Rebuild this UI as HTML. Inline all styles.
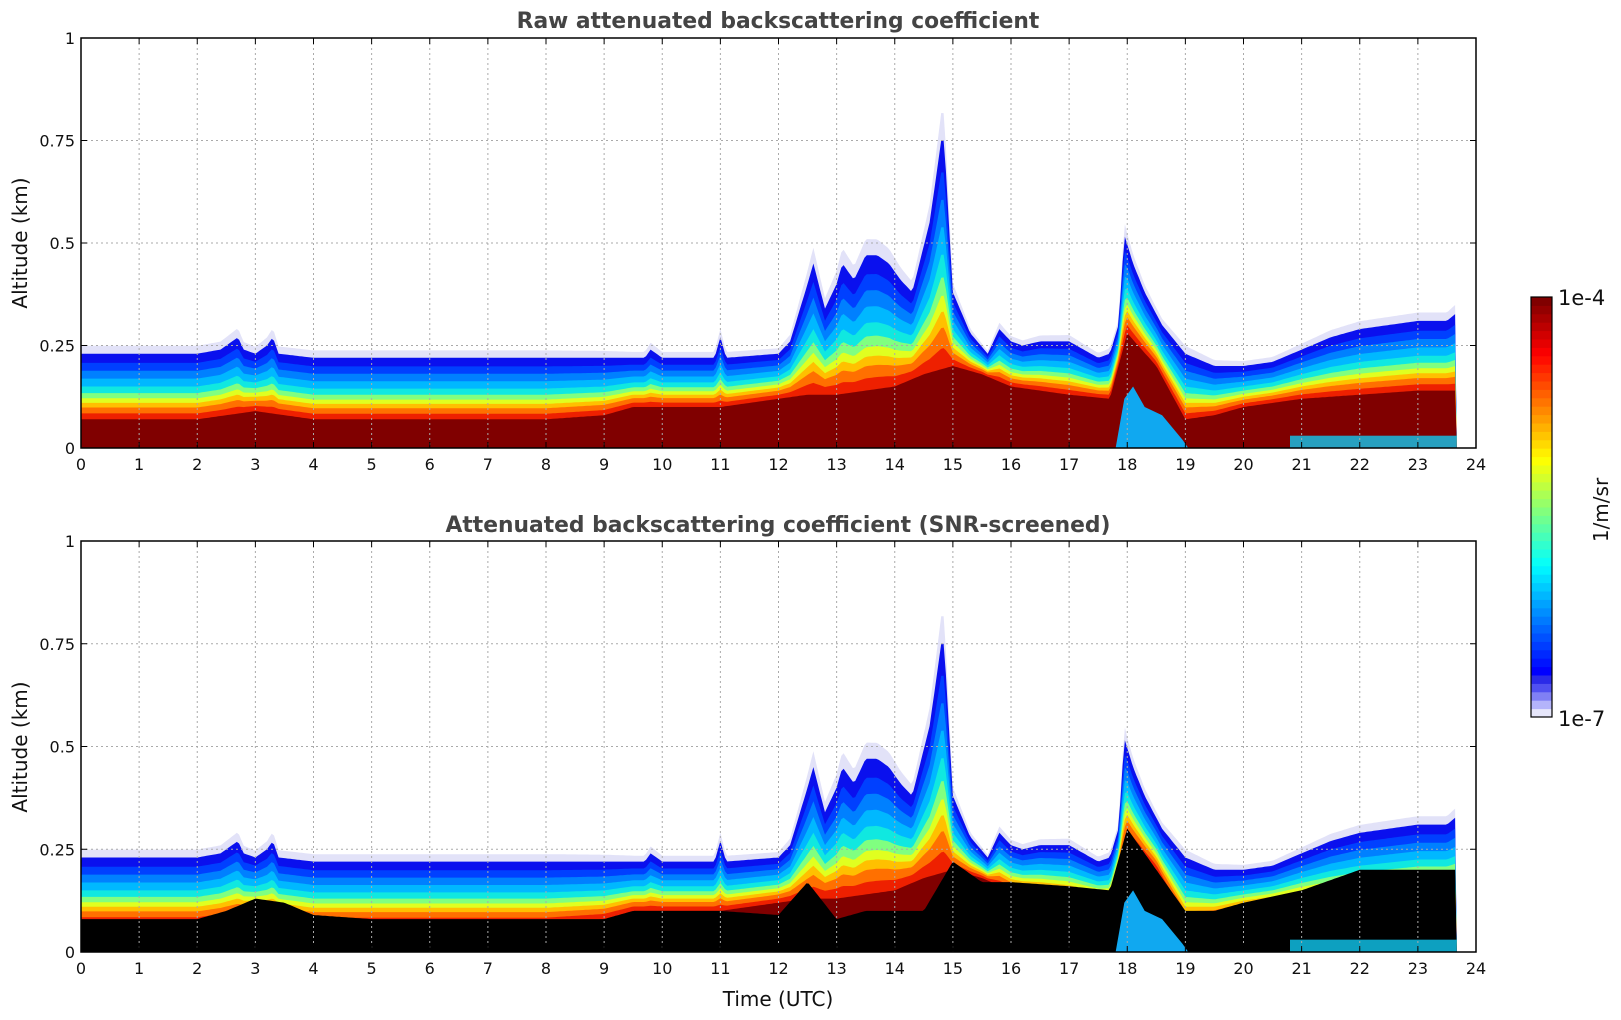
<!DOCTYPE html>
<html><head><meta charset="utf-8"><style>
body{margin:0;background:#fff;}
svg{display:block;font-family:"DejaVu Sans","Liberation Sans",sans-serif;}
</style></head><body>
<svg id="fig" width="1621" height="1020" viewBox="0 0 1621 1020">
<text x="778" y="28" text-anchor="middle" font-size="21.8" font-weight="bold" fill="#444">Raw attenuated backscattering coefficient</text>
<text x="778" y="532" text-anchor="middle" font-size="21.8" font-weight="bold" fill="#444">Attenuated backscattering coefficient (SNR-screened)</text>
<text x="778" y="1006" text-anchor="middle" font-size="20" fill="#111">Time (UTC)</text>
<text transform="translate(27,243) rotate(-90)" text-anchor="middle" font-size="20" fill="#111">Altitude (km)</text>
<text transform="translate(27,747) rotate(-90)" text-anchor="middle" font-size="20" fill="#111">Altitude (km)</text>
<g id="p1"></g>
<g id="p2"></g>
<g id="cb"></g>
<text x="1558" y="305" font-size="21" fill="#111">1e-4</text>
<text x="1558" y="726" font-size="21" fill="#111">1e-7</text>
<text transform="translate(1608,510) rotate(-90)" text-anchor="middle" font-size="20" fill="#111">1/m/sr</text>
</svg>
<script>
const times=[0,0.5,1,1.5,2,2.4,2.6,2.7,2.8,3.0,3.2,3.3,3.4,4,5,5.5,6,7,8,9,9.3,9.7,9.8,10,10.9,11,11.1,12,12.2,12.5,12.6,12.8,13,13.1,13.3,13.5,13.7,13.9,14.1,14.3,14.6,14.8,14.85,15,15.3,15.6,15.8,16,16.2,16.5,17,17.5,17.7,17.85,17.95,18.1,18.3,18.6,19,19.5,20,20.5,21,21.5,22,22.5,23,23.5,23.67];
const layerTop=[.23,.23,.23,.23,.23,.24,.26,.27,.24,.23,.25,.27,.23,.22,.22,.22,.22,.22,.22,.22,.22,.22,.24,.22,.22,.27,.22,.23,.26,.40,.45,.34,.40,.45,.41,.47,.47,.45,.41,.38,.55,.75,.75,.38,.28,.23,.29,.26,.25,.26,.26,.22,.23,.30,.52,.45,.38,.30,.23,.20,.20,.21,.24,.27,.29,.30,.31,.31,.33];
const rtimes=[0,1,2,2.5,3,3.5,4,5,6,7,8,9,9.5,10,11,12,12.5,13,13.5,14,14.5,15,15.5,16,17,17.7,18,18.5,19,19.5,20,21,22,23,23.67];
const redTop=[.07,.07,.07,.08,.09,.08,.07,.07,.07,.07,.07,.08,.1,.1,.1,.12,.13,.13,.14,.15,.18,.2,.18,.15,.13,.12,.28,.2,.07,.08,.1,.12,.13,.14,.14];
const blackTop=[.08,.08,.08,.10,.13,.12,.09,.08,.08,.08,.08,.08,.1,.1,.1,.09,.17,.08,.1,.1,.1,.22,.17,.17,.16,.15,.30,.2,.1,.1,.12,.15,.2,.2,.2];
const surfTimes=[17.8,17.95,18.1,18.3,18.6,18.95,19.05];
const surfHeight=[0,.12,.15,.1,.08,.02,0];
const xTicks=[0,1,2,3,4,5,6,7,8,9,10,11,12,13,14,15,16,17,18,19,20,21,22,23,24];
const yTicks=[0,0.25,0.5,0.75,1];
const yTickLabels=["0","0.25","0.5","0.75","1"];
const NS="http://www.w3.org/2000/svg";
const X0=81,X1=1476;
function xs(t){return X0+t/24*(X1-X0);}
function interp(ts,vs,t){if(t<=ts[0])return vs[0];for(let i=1;i<ts.length;i++){if(t<=ts[i]){const f=(t-ts[i-1])/(ts[i]-ts[i-1]);return vs[i-1]+f*(vs[i]-vs[i-1]);}}return vs[vs.length-1];}
function mk(tag,attrs,parent){const e=document.createElementNS(NS,tag);for(const k in attrs)e.setAttribute(k,attrs[k]);parent.appendChild(e);return e;}
const bands=[[1.12,"#e2e2f8"],[1.0,"#0a10ee"],[0.86,"#0040ff"],[0.74,"#0080ff"],[0.62,"#00b8ff"],[0.5,"#10e8e0"],[0.4,"#80ff80"],[0.32,"#e0ff20"],[0.25,"#ffc000"],[0.18,"#ff7000"],[0.09,"#ee2000"]];
function areaPath(fn,ys){let tEnd=23.67,d="M"+xs(0)+","+ys(0);for(let t=0;t<=tEnd+1e-6;t+=0.04){d+="L"+xs(t).toFixed(1)+","+ys(fn(t)).toFixed(1);}d+="L"+xs(tEnd)+","+ys(0)+"Z";return d;}
function drawPlot(g,yT,yB,screened){
  const ys=a=>yB-a*(yB-yT);
  mk("rect",{x:X0,y:yT,width:X1-X0,height:yB-yT,fill:"#fff"},g);
  bands.forEach(([f,c])=>{
    const p=mk("path",{d:areaPath(t=>{const tp=interp(times,layerTop,t),r=interp(rtimes,redTop,t);return r+(tp-r)*f;},ys),fill:c},g);
    
    
  });
  const dr=mk("path",{d:areaPath(t=>interp(rtimes,redTop,t),ys),fill:"#800000"},g);
  
  
  if(screened){
    const bk=mk("path",{d:areaPath(t=>interp(rtimes,blackTop,t),ys),fill:"#000"},g);
    
    
  }
  let d="M"+xs(surfTimes[0])+","+ys(0);
  surfTimes.forEach((t,i)=>{d+="L"+xs(t)+","+ys(surfHeight[i]);});
  d+="L"+xs(surfTimes[surfTimes.length-1])+","+ys(0)+"Z";
  const sf=mk("path",{d:d,fill:"#10a8f0"},g);
  
  
  const lb=mk("rect",{x:xs(20.8),y:ys(0.03),width:xs(23.67)-xs(20.8),height:ys(0)-ys(0.03),fill:"#10c8f0",opacity:0.8},g);
  
  
  xTicks.forEach(t=>{
    if(t>0&&t<24)mk("line",{x1:xs(t),x2:xs(t),y1:yT,y2:yB,stroke:"#aaa","stroke-dasharray":"2,3","stroke-width":1},g);
    mk("line",{x1:xs(t),x2:xs(t),y1:yB,y2:yB-6,stroke:"#000"},g);
    mk("line",{x1:xs(t),x2:xs(t),y1:yT,y2:yT+6,stroke:"#000"},g);
    const tx=mk("text",{x:xs(t),y:yB+22,"text-anchor":"middle","font-size":16,fill:"#111"},g);
    tx.textContent=t;
    
    
  });
  yTicks.forEach((v,i)=>{
    if(v>0&&v<1)mk("line",{x1:X0,x2:X1,y1:ys(v),y2:ys(v),stroke:"#aaa","stroke-dasharray":"2,3","stroke-width":1},g);
    mk("line",{x1:X0,x2:X0+6,y1:ys(v),y2:ys(v),stroke:"#000"},g);
    mk("line",{x1:X1-6,x2:X1,y1:ys(v),y2:ys(v),stroke:"#000"},g);
    const tx=mk("text",{x:X0-6,y:ys(v)+6,"text-anchor":"end","font-size":16,fill:"#111"},g);
    tx.textContent=yTickLabels[i];
    
    
  });
  mk("rect",{x:X0,y:yT,width:X1-X0,height:yB-yT,fill:"none",stroke:"#000","stroke-width":1.5},g);
}
drawPlot(document.getElementById("p1"),38,448,false);
drawPlot(document.getElementById("p2"),541,952,true);
function jet(v){const r=Math.min(Math.max(Math.min(4*v-1.5,-4*v+4.5),0),1),g=Math.min(Math.max(Math.min(4*v-0.5,-4*v+3.5),0),1),b=Math.min(Math.max(Math.min(4*v+0.5,-4*v+2.5),0),1);return "rgb("+Math.round(r*255)+","+Math.round(g*255)+","+Math.round(b*255)+")";}
const cb=document.getElementById("cb");
const N=50,cy0=297,cy1=717,cx=1531,cw=21,h=(cy1-cy0)/N;
const lav=["#e6e6fa","#b4b4fa","#8080f4","#5050f0","#2a2ae8"];
for(let i=0;i<N;i++){
  const col=i<5?lav[i]:jet(0.125+(i-5)/(N-6)*0.875);
  const r=mk("rect",{x:cx,y:cy1-(i+1)*h,width:cw,height:h+0.5,fill:col},cb);
  
  
}
mk("rect",{x:cx,y:cy0,width:cw,height:cy1-cy0,fill:"none",stroke:"#000","stroke-width":1.2},cb);
</script>
</body></html>
